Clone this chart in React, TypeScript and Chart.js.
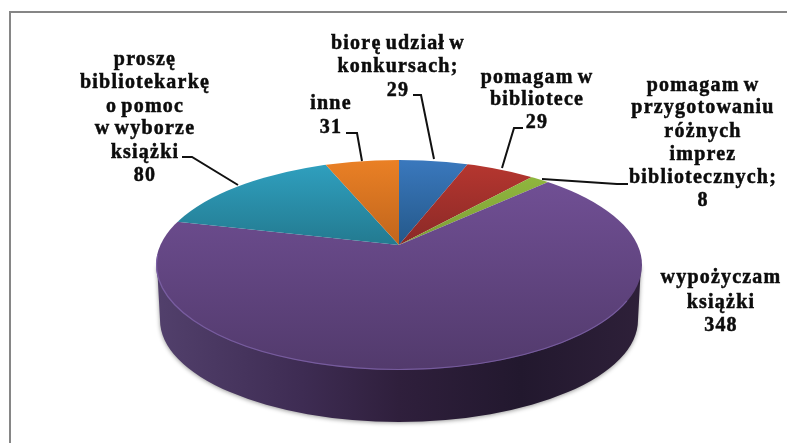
import React, { useEffect, useRef } from "react";
import { Chart, registerables } from "chart.js";

Chart.register(...registerables);

const categories = [
  "biorę udział w konkursach",
  "pomagam w bibliotece",
  "pomagam w przygotowaniu różnych imprez bibliotecznych",
  "wypożyczam książki",
  "proszę bibliotekarkę o pomoc w wyborze książki",
  "inne",
];
const values = [29, 29, 8, 348, 80, 31];
const topColors = ["#3a78bd", "#b5362f", "#8fb63e", "#704f94", "#2f9fbe", "#ea8025"];
const bottomColors = ["#245889", "#8a2927", "#7e9e36", "#523a6c", "#237a90", "#c0651c"];
const gradientTop = [160, 164, 178, 183, 165, 160];
const gradientBottom = [245, 245, 245, 370, 245, 245];

const labelLines = [
  ["biorę udział w", "konkursach;", "29"],
  ["pomagam w", "bibliotece", "29"],
  ["pomagam w", "przygotowaniu", "różnych", "imprez", "bibliotecznych;", "8"],
  ["wypożyczam", "książki", "348"],
  ["proszę", "bibliotekarkę", "o pomoc", "w wyborze", "książki", "80"],
  ["inne", "31"],
];
const labelX = [398, 537, 703, 721, 145, 331];
const labelBaselines = [
  [49, 72, 96],
  [83, 105, 128],
  [91, 113, 137, 160, 183, 206],
  [283, 308, 331],
  [65, 88, 112, 134, 158, 181],
  [109, 133],
];
const leaders = [
  [[413, 95], [421, 95], [434, 159]],
  [[523, 128], [514, 128], [502, 168]],
  [[628, 184], [617, 184], [542, 179]],
  [],
  [[182, 157], [192, 157], [238, 185]],
  [[346, 133], [357, 133], [362, 161]],
];

const W = 787;
const H = 443;
const APEX = { x: 399, y: 245 };
const FACE = { x: 399, y: 265, rx: 243, ry: 105 };
const BASE = { x: 399, y: 320, rx: 239, ry: 102 };
const TILT = 0.426;
const WEDGE_RADIUS = 310;

function geometry(chart: any) {
  const a = chart.chartArea;
  return {
    x: (a.left + a.right) / 2,
    y: (a.top + a.bottom) / 2,
    r: Math.min(a.right - a.left, a.bottom - a.top) / 2,
  };
}

const pie3d = {
  id: "pie3d",
  beforeDraw(chart: any) {
    const ctx = chart.ctx;
    ctx.save();
    ctx.fillStyle = "#ffffff";
    ctx.fillRect(0, 0, W, H);
    ctx.fillStyle = "#868686";
    ctx.fillRect(9, 11, W - 9, 2);
    ctx.fillRect(9, 11, 2, H - 11);
    ctx.restore();
  },
  beforeDatasetsDraw(chart: any) {
    const ctx = chart.ctx;
    const g = geometry(chart);
    // side wall of the disc
    ctx.save();
    const wall = ctx.createLinearGradient(FACE.x - FACE.rx, 0, FACE.x + FACE.rx, 0);
    wall.addColorStop(0, "#52406c");
    wall.addColorStop(0.3, "#3e2c53");
    wall.addColorStop(0.5, "#2f1f3c");
    wall.addColorStop(0.75, "#22182e");
    wall.addColorStop(1, "#2e2039");
    ctx.shadowColor = "rgba(0,0,0,0.4)";
    ctx.shadowBlur = 4;
    ctx.shadowOffsetY = 1;
    ctx.fillStyle = wall;
    ctx.beginPath();
    ctx.moveTo(FACE.x - FACE.rx + 1, FACE.y);
    ctx.lineTo(BASE.x - BASE.rx, BASE.y);
    ctx.ellipse(BASE.x, BASE.y, BASE.rx, BASE.ry, 0, Math.PI, 0, true);
    ctx.lineTo(FACE.x + FACE.rx - 1, FACE.y);
    ctx.closePath();
    ctx.fill();
    ctx.restore();
    // top face: the library's arcs, seen in perspective
    ctx.save();
    ctx.beginPath();
    ctx.ellipse(FACE.x, FACE.y, FACE.rx, FACE.ry, 0, 0, Math.PI * 2);
    ctx.clip();
    const s = WEDGE_RADIUS / g.r;
    ctx.translate(APEX.x, APEX.y);
    ctx.scale(s, s * TILT);
    ctx.translate(-g.x, -g.y);
  },
  afterDatasetsDraw(chart: any) {
    const ctx = chart.ctx;
    ctx.restore();
    // lit rim of the top face
    ctx.save();
    ctx.strokeStyle = "rgba(128,100,170,0.8)";
    ctx.lineWidth = 1.2;
    ctx.beginPath();
    ctx.ellipse(FACE.x, FACE.y, FACE.rx - 0.5, FACE.ry - 0.5, 0, 0.35, Math.PI + 0.1);
    ctx.stroke();
    ctx.restore();
    // leader lines
    ctx.save();
    ctx.strokeStyle = "#111111";
    ctx.lineWidth = 2;
    leaders.forEach((pts) => {
      if (!pts.length) return;
      ctx.beginPath();
      pts.forEach(([x, y], i) => (i ? ctx.lineTo(x, y) : ctx.moveTo(x, y)));
      ctx.stroke();
    });
    // data labels
    ctx.fillStyle = "#0c0c0c";
    ctx.strokeStyle = "#0c0c0c";
    ctx.lineWidth = 0.5;
    ctx.font = 'bold 20px "Liberation Serif"';
    ctx.textAlign = "center";
    ctx.textBaseline = "alphabetic";
    (ctx as any).letterSpacing = "1.2px";
    (ctx as any).wordSpacing = "-2px";
    labelLines.forEach((lines, i) => {
      lines.forEach((line, j) => {
        ctx.fillText(line, labelX[i], labelBaselines[i][j]);
        ctx.strokeText(line, labelX[i], labelBaselines[i][j]);
      });
    });
    ctx.restore();
  },
};

export default function App() {
  const ref = useRef<HTMLCanvasElement | null>(null);
  useEffect(() => {
    const canvas = ref.current!;
    const chart = new Chart(canvas, {
      type: "pie",
      data: {
        labels: categories,
        datasets: [
          {
            data: values,
            borderWidth: 0,
            clip: false,
            backgroundColor: (c: any) => {
              const area = c.chart.chartArea;
              const i = c.dataIndex;
              if (!area || i === undefined) return topColors[0];
              const g = geometry(c.chart);
              const k = (WEDGE_RADIUS / g.r) * TILT;
              const toUser = (sy: number) => g.y + (sy - APEX.y) / k;
              const grad = c.chart.ctx.createLinearGradient(0, toUser(gradientTop[i]), 0, toUser(gradientBottom[i]));
              grad.addColorStop(0, topColors[i]);
              grad.addColorStop(1, bottomColors[i]);
              return grad;
            },
          } as any,
        ],
      },
      options: {
        responsive: false,
        animation: false,
        events: [],
        rotation: 0,
        layout: { padding: 0 },
        plugins: { legend: { display: false }, tooltip: { enabled: false }, title: { display: false } },
      },
      plugins: [pie3d],
    });
    return () => chart.destroy();
  }, []);
  return (
    <div style={{ position: "absolute", left: 0, top: 0, width: W, height: H, overflow: "hidden" }}>
      <canvas ref={ref} width={W} height={H} style={{ display: "block" }} />
    </div>
  );
}
